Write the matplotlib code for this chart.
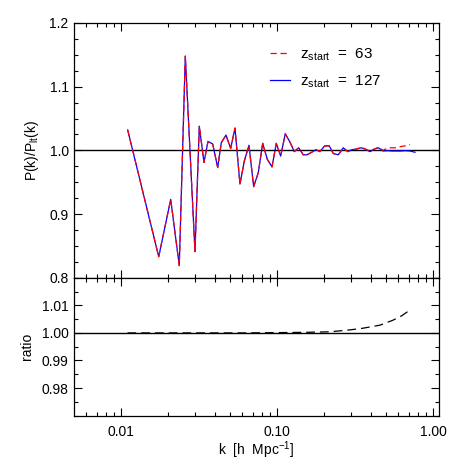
import matplotlib
matplotlib.use("Agg")
import matplotlib.pyplot as plt
from matplotlib.ticker import FixedLocator, MultipleLocator, NullFormatter, FixedFormatter

plt.rcParams['font.family'] = ['Liberation Sans', 'DejaVu Sans']
plt.rcParams['mathtext.fontset'] = 'custom'
plt.rcParams['mathtext.rm'] = 'Liberation Sans'

k = [0.01104, 0.01745, 0.02083, 0.02364, 0.02584, 0.02981, 0.03177, 0.03404, 0.03611, 0.03871,
     0.04168, 0.04395, 0.04711, 0.05048, 0.05379, 0.05791, 0.06171, 0.06613, 0.07088, 0.07588,
     0.08098, 0.08667, 0.09288, 0.09897, 0.1056, 0.1130, 0.1211, 0.1291, 0.1377, 0.1474,
     0.1557, 0.1669, 0.1778, 0.1886, 0.2021, 0.2164, 0.2296, 0.2471, 0.2661, 0.2839,
     0.3025, 0.3243, 0.3455, 0.3681, 0.3947, 0.4204, 0.4472, 0.4779, 0.5147, 0.5461,
     0.5877, 0.6235, 0.6613, 0.7122, 0.7667]

p127 = [1.032, 0.833, 0.923, 0.819, 1.148, 0.841, 1.038, 0.981, 1.014, 1.010,
        0.973, 1.012, 1.024, 1.003, 1.035, 0.947, 0.983, 1.008, 0.943, 0.965,
        1.011, 0.986, 0.974, 1.011, 0.991, 1.026, 1.013, 0.998, 1.004, 0.993,
        0.993, 0.997, 1.001, 0.998, 1.007, 1.007, 0.995, 0.993, 1.004, 0.998,
        1.001, 1.002, 1.004, 1.002, 0.998, 1.002, 1.004, 0.999, 0.9995, 0.999,
        0.999, 0.999, 0.9995, 0.999, 0.997]

p63 = [1.032, 0.833, 0.923, 0.819, 1.148, 0.841, 1.038, 0.981, 1.014, 1.010,
       0.973, 1.012, 1.024, 1.003, 1.035, 0.947, 0.983, 1.008, 0.943, 0.965,
       1.011, 0.986, 0.974, 1.011, 0.991, 1.026, 1.013, 0.998, 1.004, 0.993,
       0.993, 0.997, 1.001, 0.998, 1.007, 1.007, 0.995, 0.993, 1.004, 0.998,
       1.001, 1.002, 1.005, 1.002, 0.999, 1.002, 1.005, 1.000, 1.004, 1.004,
       1.004, 1.006, 1.007, 1.009]

k_ratio = [0.011, 0.03, 0.06, 0.1, 0.15, 0.219, 0.294, 0.356, 0.457, 0.554, 0.63, 0.692]
ratio = [1.0, 1.0, 1.0, 1.0001, 1.0002, 1.0004, 1.0011, 1.0017, 1.0028, 1.0046, 1.0062, 1.0078]

xticks = [0.01, 0.1, 1.0]
xticklabels = ['0.01', '0.10', '1.00']
top_yticks = [0.8, 0.9, 1.0, 1.1, 1.2]
bot_yticks = [0.98, 0.99, 1.00, 1.01]
bot_yticklabels = ['0.98', '0.99', '1.00', '1.01']

W = 463
fig = plt.figure(figsize=(W / 100, W / 100), dpi=100)

L, R = 74.3 / W, 439 / W
ax1 = fig.add_axes([L, 1 - 277.7 / W, R - L, (277.7 - 23) / W])
ax2 = fig.add_axes([L, 1 - 415.7 / W, R - L, (415.7 - 277.7) / W])

for ax in (ax1, ax2):
    ax.set_xscale('log')
    ax.set_xlim(0.00502, 1.093)
    ax.tick_params(which='both', direction='in', top=True, right=True, labelsize=10,
                   width=0.8, colors='black')
    ax.tick_params(which='major', length=5.5)
    ax.tick_params(which='minor', length=2.8)
    ax.tick_params(axis='x', which='both', pad=7)
    ax.tick_params(axis='y', which='both', pad=4)
    ax.xaxis.set_major_locator(FixedLocator(xticks))
    for s in ax.spines.values():
        s.set_linewidth(0.9)

ax1.axhline(1.0, color='black', lw=1.0)
ax1.plot(k, p127, color='blue', lw=0.9, label=r'z$_{\rm start}$  =  127')
ax1.plot(k[:len(p63)], p63, color='red', lw=0.9, dashes=(5, 3), label=r'z$_{\rm start}$  =  63')
ax1.set_ylim(0.8, 1.2)
ax1.yaxis.set_major_locator(FixedLocator(top_yticks))
ax1.yaxis.set_minor_locator(MultipleLocator(0.025))
ax1.xaxis.set_major_formatter(NullFormatter())
ax1.xaxis.set_minor_formatter(NullFormatter())
ax1.set_ylabel(r'P(k)/P$_{\rm lt}$(k)', fontsize=10, labelpad=6)
h, l = ax1.get_legend_handles_labels()
ax1.legend(h[::-1], l[::-1], loc='upper left', bbox_to_anchor=(0.52, 0.933), frameon=False,
           fontsize=11, handlelength=1.3, labelspacing=0.7, handletextpad=0.65,
           borderpad=0.4, borderaxespad=0)

ax2.axhline(1.0, color='black', lw=1.0)
ax2.plot(k_ratio, ratio, color='black', lw=0.9, dashes=(7, 4))
ax2.set_ylim(0.97, 1.02)
ax2.yaxis.set_major_locator(FixedLocator(bot_yticks))
ax2.yaxis.set_major_formatter(FixedFormatter(bot_yticklabels))
ax2.yaxis.set_minor_locator(MultipleLocator(0.005))
ax2.xaxis.set_major_formatter(FixedFormatter(xticklabels))
ax2.xaxis.set_minor_formatter(NullFormatter())
ax2.set_ylabel('ratio', fontsize=10, labelpad=6)
ax2.set_xlabel(r'k  [h  Mpc$^{-1}$]', fontsize=10, labelpad=0)

fig.savefig('out.png', dpi=100)
